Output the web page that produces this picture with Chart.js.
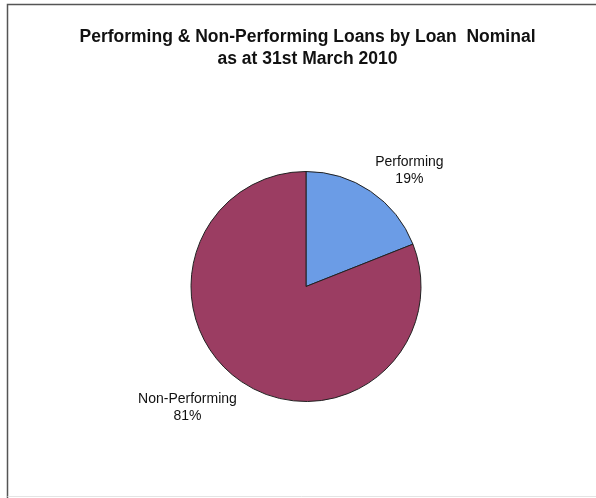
<!DOCTYPE html>
<html>
<head>
<meta charset="utf-8">
<title>Loans by Loan Nominal</title>
<script src="https://cdn.jsdelivr.net/npm/chart.js@4/dist/chart.umd.min.js"></script>
<style>
  html, body { margin: 0; padding: 0; background: #fff; }
  canvas { display: block; }
</style>
</head>
<body>
<canvas id="myChart" width="596" height="498"></canvas>
<script>
const categories = ["Performing", "Non-Performing"];
const values = [19, 81];
const colours = ["#6b9ce6", "#9b3d62"];
const titleLines = ["Performing & Non-Performing Loans by Loan  Nominal", "as at 31st March 2010"];

const ctx = document.getElementById("myChart");

// frame round the chart (left and top edges, faint bottom)
const framePlugin = {
  id: "frame",
  beforeDraw(chart) {
    const c = chart.ctx;
    c.save();
    c.fillStyle = "#fff";
    c.fillRect(0, 0, chart.width, chart.height);
    c.strokeStyle = "#555";
    c.lineWidth = 1.5;
    c.beginPath();
    c.moveTo(7.5, chart.height);
    c.lineTo(7.5, 4.5);
    c.lineTo(chart.width, 4.5);
    c.stroke();
    c.strokeStyle = "#e4e4e4";
    c.lineWidth = 1;
    c.beginPath();
    c.moveTo(7.5, 496.5);
    c.lineTo(chart.width, 496.5);
    c.stroke();
    c.restore();
  },
};

// two-line bold title above the pie
const titlePlugin = {
  id: "pieTitle",
  afterDraw(chart) {
    const c = chart.ctx;
    c.save();
    c.font = "bold 17.5px Arial, 'Liberation Sans', sans-serif";
    c.fillStyle = "#111";
    c.textAlign = "center";
    c.textBaseline = "middle";
    titleLines.forEach((t, k) => {
      c.fillText(t, 307.5, 37 + k * 22);
    });
    c.restore();
  },
};

// category name + percentage outside each slice
const sliceLabels = {
  id: "sliceLabels",
  afterDatasetsDraw(chart) {
    const c = chart.ctx;
    const meta = chart.getDatasetMeta(0);
    const total = values.reduce((a, b) => a + b, 0);
    const lineH = 17;
    c.save();
    c.font = "14px Arial, 'Liberation Sans', sans-serif";
    c.fillStyle = "#111";
    c.textAlign = "center";
    c.textBaseline = "middle";
    meta.data.forEach((arc, i) => {
      const { x, y, startAngle, endAngle, outerRadius } = arc.getProps(
        ["x", "y", "startAngle", "endAngle", "outerRadius"], true);
      const mid = (startAngle + endAngle) / 2;
      const dx = Math.cos(mid);
      const dy = Math.sin(mid);
      const px = x + (outerRadius + 8) * dx;
      const py = y + (outerRadius + 8) * dy + 2.5;
      const lines = [categories[i], Math.round((values[i] / total) * 100) + "%"];
      const w = Math.max(...lines.map((t) => c.measureText(t).width));
      const h = lines.length * lineH;
      const left = dx > 0 ? px : px - w;
      const top = dy < 0 ? py - h : py;
      lines.forEach((t, k) => {
        c.fillText(t, left + w / 2, top + lineH / 2 + k * lineH);
      });
    });
    c.restore();
  },
};

new Chart(ctx, {
  type: "pie",
  data: {
    labels: categories,
    datasets: [
      {
        data: values,
        backgroundColor: colours,
        borderColor: "#222",
        borderWidth: 1,
        hoverOffset: 0,
      },
    ],
  },
  options: {
    responsive: false,
    animation: false,
    radius: 115,
    layout: {
      padding: { top: 171.5, bottom: 96.5, left: 100, right: 84 },
    },
    plugins: {
      legend: { display: false },
      tooltip: { enabled: false },
      title: { display: false },
    },
  },
  plugins: [framePlugin, titlePlugin, sliceLabels],
});
</script>
</body>
</html>
